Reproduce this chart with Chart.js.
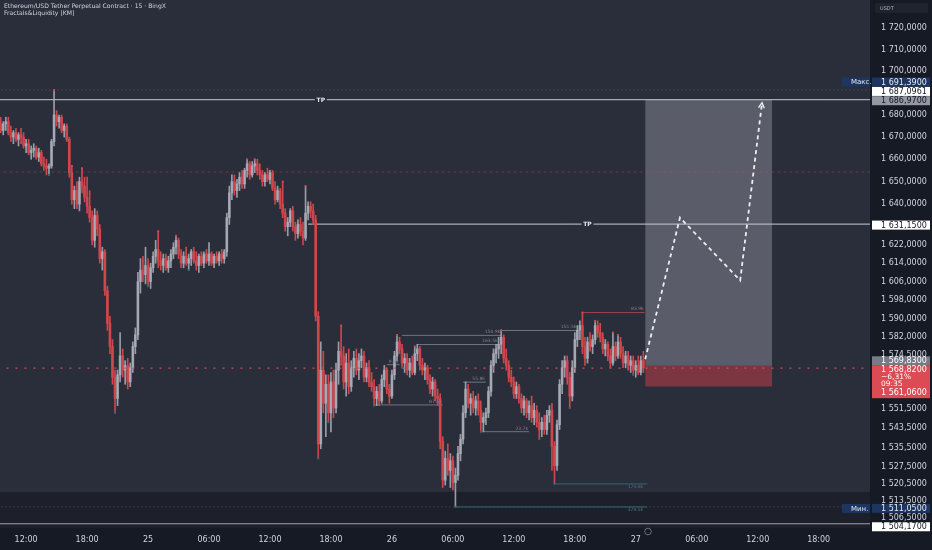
<!DOCTYPE html>
<html>
<head>
<meta charset="utf-8">
<title>ETHUSDT 15m</title>
<script src="https://cdn.jsdelivr.net/npm/chart.js@4.4.1/dist/chart.umd.min.js"></script>
<style>
  html, body { margin: 0; padding: 0; background: #161a25; }
  #wrap { width: 932px; height: 550px; }
</style>
</head>
<body>
<div id="wrap"><canvas id="chart" width="932" height="550"></canvas></div>
<script>
// 15m candles, 24th 09:30 -> 27th 00:45 (index = candle number)
const opens = [
  1676,1673,1676,1677,1672,1670,1672,1669,1671,1670,
  1666,1667,1663,1664,1665,1661,1663,1658,1657,1656,
  1657,1668,1680,1677,1679,1673,1675,1669,1654,1642,
  1646,1640,1650,1648,1643,1639,1634,1624,1635,1629,
  1616,1619,1602,1588,1578,1565,1556,1566,1574,1568,
  1570,1563,1569,1578,1583,1606,1611,1609,1613,1606,
  1612,1617,1620,1615,1613,1616,1612,1615,1618,1621,
  1624,1618,1614,1617,1614,1616,1619,1615,1613,1617,
  1614,1618,1615,1618,1614,1617,1615,1618,1616,1619,
  1634,1645,1650,1646,1649,1652,1649,1655,1658,1653,
  1657,1658,1655,1653,1650,1653,1651,1654,1647,1642,
  1646,1640,1636,1630,1632,1637,1630,1627,1631,1628,
  1625,1636,1639,1637,1633,1591,1537,1568,1554,1562,
  1550,1563,1552,1568,1576,1574,1563,1571,1561,1569,
  1573,1568,1572,1574,1565,1569,1563,1561,1556,1559,
  1555,1564,1568,1560,1557,1566,1574,1580,1577,1571,
  1573,1568,1571,1567,1575,1577,1570,1568,1569,1564,
  1560,1563,1557,1556,1538,1522,1531,1526,1530,1521,
  1524,1533,1539,1550,1560,1554,1556,1552,1555,1551,
  1546,1548,1550,1559,1570,1575,1577,1579,1582,1573,
  1570,1565,1563,1558,1561,1556,1552,1555,1550,1553,
  1548,1551,1546,1543,1546,1543,1549,1551,1536,1528,
  1545,1562,1569,1572,1565,1557,1569,1581,1585,1587,
  1578,1573,1580,1578,1581,1587,1584,1582,1577,1579,
  1574,1571,1578,1574,1580,1575,1571,1574,1570,1572,
  1568,1570,1567,1572
];
const highs = [
  1679,1677,1679,1679,1675,1673,1674,1672,1674,1672,
  1669,1669,1666,1667,1666,1665,1664,1661,1660,1658,
  1669,1691.39,1682,1680,1680,1676,1676,1670,1657,1648,
  1650,1652,1656,1652,1652,1646,1637,1638,1637,1631,
  1621,1620,1604,1591,1581,1568,1568,1584,1577,1572,
  1573,1571,1580,1586,1610,1616,1617,1621,1616,1614,
  1619,1624,1628,1619,1618,1618,1617,1620,1623,1626,
  1625,1620,1619,1621,1618,1620,1621,1619,1618,1619,
  1619,1620,1623,1619,1618,1619,1619,1620,1620,1636,
  1648,1653,1653,1651,1654,1655,1656,1660,1659,1659,
  1660,1660,1658,1655,1654,1656,1655,1655,1650,1648,
  1647,1650,1638,1634,1638,1639,1632,1633,1634,1632,
  1648,1641,1641,1640,1635,1593,1580,1576,1566,1566,
  1567,1568,1571,1580,1587,1578,1575,1577,1572,1576,
  1577,1575,1577,1576,1571,1572,1567,1564,1561,1562,
  1566,1570,1569,1562,1568,1576,1583,1582,1579,1575,
  1575,1573,1574,1578,1579,1578,1573,1571,1570,1566,
  1565,1564,1560,1558,1540,1534,1537,1533,1532,1527,
  1536,1541,1553,1563,1562,1558,1559,1557,1558,1555,
  1550,1552,1561,1572,1577,1579,1582,1585,1583,1577,
  1572,1568,1565,1563,1562,1558,1557,1556,1555,1557,
  1554,1553,1550,1548,1549,1551,1553,1554,1538,1547,
  1564,1572,1574,1574,1567,1572,1584,1587,1589,1592.6,
  1582,1582,1584,1583,1589,1589,1588,1584,1581,1580,
  1577,1584,1580,1583,1582,1578,1576,1576,1574,1574,
  1572,1574,1574,1576
];
const lows = [
  1672,1671,1673,1671,1668,1667,1668,1666,1667,1665,
  1663,1662,1660,1661,1660,1659,1657,1655,1653,1653,
  1656,1666,1675,1674,1672,1670,1668,1652,1640,1638,
  1638,1637,1645,1641,1636,1632,1622,1621,1626,1614,
  1611,1600,1585,1575,1562,1550,1553,1563,1565,1562,
  1560,1561,1567,1575,1581,1601,1606,1605,1604,1603,
  1610,1614,1612,1611,1610,1611,1610,1612,1616,1618,
  1616,1612,1612,1613,1611,1613,1614,1611,1610,1613,
  1612,1614,1613,1613,1612,1614,1613,1614,1614,1617,
  1631,1642,1644,1643,1646,1647,1647,1652,1651,1652,
  1654,1653,1651,1648,1648,1650,1649,1646,1640,1641,
  1638,1634,1628,1626,1630,1628,1624,1625,1626,1622,
  1624,1633,1634,1631,1589,1531,1535,1550,1540,1546,
  1542,1548,1550,1562,1570,1560,1557,1558,1559,1565,
  1566,1564,1569,1563,1563,1561,1559,1553,1553,1553,
  1554,1561,1558,1554,1556,1564,1572,1575,1569,1567,
  1566,1565,1566,1566,1572,1568,1566,1564,1562,1558,
  1557,1555,1553,1535,1519,1520,1524,1519,1518,1511.05,
  1522,1530,1537,1548,1552,1549,1550,1549,1549,1542,
  1542,1545,1548,1557,1567,1571,1573,1575,1571,1568,
  1563,1561,1556,1556,1554,1550,1549,1548,1547,1546,
  1545,1544,1539,1540,1541,1541,1546,1526,1520.5,1526,
  1543,1558,1565,1562,1552,1555,1567,1578,1581,1575,
  1570,1571,1576,1575,1579,1582,1580,1575,1574,1572,
  1569,1570,1572,1573,1573,1569,1569,1568,1567,1566,
  1565,1566,1566,1567
];
const closes = [
  1673,1676,1677,1672,1670,1672,1669,1671,1670,1666,
  1667,1663,1664,1665,1661,1663,1658,1657,1656,1657,
  1668,1680,1677,1679,1673,1675,1669,1654,1642,1646,
  1640,1650,1648,1643,1639,1634,1624,1635,1629,1616,
  1619,1602,1588,1578,1565,1556,1566,1574,1568,1570,
  1563,1569,1578,1583,1606,1611,1609,1613,1606,1612,
  1617,1620,1615,1613,1616,1612,1615,1618,1621,1624,
  1618,1614,1617,1614,1616,1619,1615,1613,1617,1614,
  1618,1615,1618,1614,1617,1615,1618,1616,1619,1634,
  1645,1650,1646,1649,1652,1649,1655,1658,1653,1657,
  1658,1655,1653,1650,1653,1651,1654,1647,1642,1646,
  1640,1636,1630,1632,1637,1630,1627,1631,1628,1625,
  1636,1639,1637,1633,1591,1537,1568,1554,1562,1550,
  1563,1552,1568,1576,1574,1563,1571,1561,1569,1573,
  1568,1572,1574,1565,1569,1563,1561,1556,1559,1555,
  1564,1568,1560,1557,1566,1574,1580,1577,1571,1573,
  1568,1571,1567,1575,1577,1570,1568,1569,1564,1560,
  1563,1557,1556,1538,1522,1531,1526,1530,1521,1524,
  1533,1539,1550,1560,1554,1556,1552,1555,1551,1546,
  1548,1550,1559,1570,1575,1577,1579,1582,1573,1570,
  1565,1563,1558,1561,1556,1552,1555,1550,1553,1548,
  1551,1546,1543,1546,1543,1549,1551,1536,1528,1545,
  1562,1569,1572,1565,1557,1569,1581,1585,1587,1578,
  1573,1580,1578,1581,1587,1584,1582,1577,1579,1574,
  1571,1578,1574,1580,1575,1571,1574,1570,1572,1568,
  1570,1567,1572,1568.82
];

// fractal pivots marked on the candles
const pivotHighIdx = [21, 28, 32, 62, 69, 97, 100, 111, 120, 134, 156, 163, 197, 229, 234, 241, 243];
const pivotLowIdx = [19, 45, 58, 74, 125, 129, 147, 158, 179, 189, 212, 218, 224, 249];

// time axis (candle index -> label)
const timeTickIdx = [10, 34, 58, 82, 106, 130, 154, 178, 202, 226, 250, 274, 298, 322];
const timeTickLabels = ['12:00','18:00','25','06:00','12:00','18:00','26','06:00','12:00','18:00','27','06:00','12:00','18:00'];
const priceTicks = [1720,1710,1700,1690,1680,1670,1660,1650,1640,1630,1622,1614,1606,1598,1590,1582,
  1574.5,1566.5,1559,1551.5,1543.5,1535.5,1527.5,1520.5,1513.5,1506.5];

// drawings
const tpPrices = [1686.97, 1631.15];
const tpFrom = [-1, 121];
const tpLabelAt = [126, 231];

const fractalPrices = [1582.8, 1578.9, 1584.9, 1553.3, 1562.9, 1542.1, 1570.3];
const fractalFrom   = [158, 164, 197, 147, 182, 190, 152];
const fractalTo     = [197, 196, 227, 174, 191, 208, 157];
const fractalTags   = ['150.9k', '163.5k', '151.5k', '87.5k', '55.8k', '23.7k', '9.3k'];

const redLevelPrices = [1592.6];
const redLevelFrom   = [229];
const redLevelTo     = [253.5];
const redLevelTags   = ['83.9k'];

const liquidityPrices = [1520.5, 1511.05];
const liquidityFrom   = [218, 179];
const liquidityTo     = [254.5, 254.5];
const liquidityTags   = ['174.6k', '374.5k'];

const targetPrice = 1686.97, entryPrice = 1569.83, stopPrice = 1561.06;
const positionFrom = 253.7, positionTo = 303.7;
const pathIdx = [253.7, 267.4, 291.1, 299.7];
const pathPrices = [1572.6, 1634, 1606.5, 1685.6];

const lastPrice = 1568.82;
const maxPrice = 1691.39, minPrice = 1511.05;
const fadedLevel = 1654.3;
const bottomLine = 1504.17;
const bandTop = 1517.1;

const X_MIN = -0.28, X_MAX = 342.2;
const UP = 'rgba(170,173,183,0.88)';
const DOWN = '#cf464d';
const PANE = '#2a2e3a';
const AXIS_FONT = 'DejaVu Sans';

function fmt(v) {
  const parts = v.toFixed(4).split('.');
  return parts[0].replace(/\B(?=(\d{3})+(?!\d))/g, ' ') + ',' + parts[1];
}

function hline(price, from, to, color, dash, width, order) {
  return {
    type: 'line',
    data: [{ x: from, y: price }, { x: to, y: price }],
    borderColor: color,
    borderDash: dash || [],
    borderWidth: width || 1,
    pointRadius: 0,
    pointHoverRadius: 0,
    fill: false,
    order: order
  };
}

const candleColors = closes.map((c, i) => c >= opens[i] ? UP : DOWN);

const datasets = [];

// dark band at the bottom of the pane
datasets.push({
  type: 'line', data: [{ x: X_MIN - 1, y: bandTop }, { x: X_MAX + 1, y: bandTop }],
  borderWidth: 0, pointRadius: 0, fill: 'start', backgroundColor: '#1d202b', order: 30
});

// long position: target zone then stop zone
datasets.push({
  type: 'line', data: [{ x: positionFrom, y: targetPrice }, { x: positionTo, y: targetPrice }],
  borderWidth: 0, pointRadius: 0, fill: '+1', backgroundColor: 'rgba(120,123,134,0.62)', order: 25
});
datasets.push({
  type: 'line', data: [{ x: positionFrom, y: entryPrice }, { x: positionTo, y: entryPrice }],
  borderWidth: 0, pointRadius: 0, fill: '+1', backgroundColor: 'rgba(205,62,72,0.5)', order: 25
});
datasets.push({
  type: 'line', data: [{ x: positionFrom, y: stopPrice }, { x: positionTo, y: stopPrice }],
  borderWidth: 0, pointRadius: 0, fill: false, order: 25
});

// horizontal levels
datasets.push(hline(maxPrice, X_MIN - 1, X_MAX + 1, 'rgba(150,153,165,0.45)', [1, 3], 1, 20));
datasets.push(hline(minPrice, X_MIN - 1, X_MAX + 1, 'rgba(150,153,165,0.45)', [1, 3], 1, 20));
datasets.push(hline(fadedLevel, X_MIN - 1, X_MAX + 1, 'rgba(190,70,80,0.45)', [3, 3], 1, 20));
datasets.push(hline(bottomLine, X_MIN - 1, X_MAX + 1, '#9fa2ab', [], 1, 20));
tpPrices.forEach((p, i) => datasets.push(hline(p, tpFrom[i], X_MAX + 1, '#c9cbd1', [], 1, 15)));
fractalPrices.forEach((p, i) => datasets.push(hline(p, fractalFrom[i], fractalTo[i], 'rgba(125,128,140,0.85)', [], 1, 15)));
redLevelPrices.forEach((p, i) => datasets.push(hline(p, redLevelFrom[i], redLevelTo[i], 'rgba(190,70,80,0.8)', [], 1, 15)));
liquidityPrices.forEach((p, i) => datasets.push(hline(p, liquidityFrom[i], liquidityTo[i], '#30586a', [], 1.2, 15)));

// candles: wicks and bodies as floating bars
datasets.push({
  type: 'bar', grouped: false, order: 5,
  data: highs.map((h, i) => ({ x: i, y: [lows[i], h] })),
  backgroundColor: candleColors, barThickness: 1
});
datasets.push({
  type: 'bar', grouped: false, order: 4,
  data: closes.map((c, i) => ({ x: i, y: [opens[i], c] })),
  backgroundColor: candleColors, barThickness: 2, minBarLength: 1
});

// fractal markers
datasets.push({
  type: 'scatter', order: 3,
  data: pivotHighIdx.map(i => ({ x: i, y: highs[i] })),
  pointStyle: 'rect', pointRadius: 1.4, pointHoverRadius: 0, backgroundColor: '#d9434c', borderWidth: 0
});
datasets.push({
  type: 'scatter', order: 3,
  data: pivotLowIdx.map(i => ({ x: i, y: lows[i] })),
  pointStyle: 'rect', pointRadius: 1.4, pointHoverRadius: 0, backgroundColor: '#2e6b70', borderWidth: 0
});

// current price line
datasets.push(hline(lastPrice, X_MIN - 1, X_MAX + 1, '#d94a52', [2, 7], 1.3, 3));

// projected path
datasets.push({
  type: 'line', order: 1,
  data: pathIdx.map((x, i) => ({ x: x, y: pathPrices[i] })),
  borderColor: '#eceef2', borderDash: [4, 3.5], borderWidth: 1.8, pointRadius: 0, pointHoverRadius: 0,
  fill: false, tension: 0
});

function box(ctx, x, y, w, h, bg, fg, text, font) {
  ctx.fillStyle = bg;
  ctx.fillRect(x, y - h / 2, w, h);
  ctx.fillStyle = fg;
  ctx.font = font || ('8px ' + AXIS_FONT);
  ctx.textAlign = 'left';
  ctx.textBaseline = 'middle';
  ctx.fillText(text, x + 9, y + 0.5);
}

const decor = {
  id: 'decor',
  beforeDraw(chart) {
    const { ctx, chartArea: a } = chart;
    ctx.save();
    ctx.fillStyle = '#161a25';
    ctx.fillRect(0, 0, chart.width, chart.height);
    ctx.fillStyle = PANE;
    ctx.fillRect(a.left, a.top, a.right - a.left, a.bottom - a.top);
    ctx.restore();
  },
  afterDatasetsDraw(chart) {
    const { ctx } = chart;
    const xs = chart.scales.x, ys = chart.scales.y;
    ctx.save();

    // arrow head of projected path
    const n = pathIdx.length;
    const px = xs.getPixelForValue(pathIdx[n - 1]), py = ys.getPixelForValue(pathPrices[n - 1]);
    const qx = xs.getPixelForValue(pathIdx[n - 2]), qy = ys.getPixelForValue(pathPrices[n - 2]);
    const ang = Math.atan2(py - qy, px - qx);
    ctx.strokeStyle = '#eceef2';
    ctx.lineWidth = 1.4;
    ctx.beginPath();
    ctx.moveTo(px - 6 * Math.cos(ang - 0.5), py - 6 * Math.sin(ang - 0.5));
    ctx.lineTo(px, py);
    ctx.lineTo(px - 6 * Math.cos(ang + 0.5), py - 6 * Math.sin(ang + 0.5));
    ctx.stroke();

    // TP labels
    ctx.font = 'bold 6px ' + AXIS_FONT;
    ctx.textAlign = 'center';
    ctx.textBaseline = 'middle';
    tpPrices.forEach((p, i) => {
      const x = xs.getPixelForValue(tpLabelAt[i]), y = ys.getPixelForValue(p);
      ctx.fillStyle = PANE;
      ctx.fillRect(x - 6, y - 3, 12, 6);
      ctx.fillStyle = '#e8e9ed';
      ctx.fillText('TP', x, y + 0.5);
    });

    // liquidity tags
    ctx.font = '4.5px ' + AXIS_FONT;
    ctx.textAlign = 'right';
    ctx.textBaseline = 'bottom';
    ctx.fillStyle = '#80838e';
    fractalPrices.forEach((p, i) => {
      ctx.fillText(fractalTags[i], xs.getPixelForValue(fractalTo[i]) - 1, ys.getPixelForValue(p) - 1);
    });
    redLevelPrices.forEach((p, i) => {
      ctx.fillText(redLevelTags[i], xs.getPixelForValue(redLevelTo[i]) - 1, ys.getPixelForValue(p) - 1);
    });
    ctx.textBaseline = 'top';
    ctx.fillStyle = '#4d7282';
    liquidityPrices.forEach((p, i) => {
      ctx.fillText(liquidityTags[i], xs.getPixelForValue(liquidityTo[i]) - 4, ys.getPixelForValue(p) + 1);
    });

    // header
    ctx.textAlign = 'left';
    ctx.textBaseline = 'middle';
    ctx.fillStyle = '#d1d4dc';
    ctx.font = '6.1px ' + AXIS_FONT;
    ctx.fillText('Ethereum/USD Tether Perpetual Contract · 15 · BingX', 4, 6);
    ctx.fillText('Fractals&Liquidity [KM]', 4, 13);
    ctx.restore();
  },
  afterDraw(chart) {
    const { ctx, chartArea: a } = chart;
    const ys = chart.scales.y;
    const ax = a.right + 2, aw = 58;
    ctx.save();

    // currency box
    ctx.fillStyle = '#1f232e';
    ctx.fillRect(ax + 3, 3, 53, 10);
    ctx.fillStyle = '#b2b5be';
    ctx.font = '5px ' + AXIS_FONT;
    ctx.textBaseline = 'middle';
    ctx.fillText('USDT', ax + 8, 8.5);

    const BLUE = '#1c3563';
    const yMax = ys.getPixelForValue(maxPrice) - 8;
    box(ctx, ax, yMax, aw, 9, BLUE, '#e8eaf0', fmt(maxPrice));
    box(ctx, a.right - 28, yMax, 28, 9, BLUE, '#e8eaf0', 'Макс.', '7px ' + AXIS_FONT);
    box(ctx, ax, ys.getPixelForValue(1687.0961) - 8, aw, 9, '#ffffff', '#131722', fmt(1687.0961));
    box(ctx, ax, ys.getPixelForValue(targetPrice) + 1, aw, 9, '#9598a1', '#131722', fmt(targetPrice));
    box(ctx, ax, ys.getPixelForValue(tpPrices[1]) + 1, aw, 9, '#ffffff', '#131722', fmt(tpPrices[1]));
    box(ctx, ax, ys.getPixelForValue(entryPrice) - 5, aw, 9, '#787b86', '#ffffff', fmt(entryPrice));

    // last price block
    const yl = ys.getPixelForValue(lastPrice);
    ctx.fillStyle = '#dc4a53';
    ctx.fillRect(ax, yl - 3, aw, 33);
    ctx.fillStyle = '#ffffff';
    ctx.font = '8px ' + AXIS_FONT;
    ctx.textBaseline = 'middle';
    ctx.fillText(fmt(lastPrice), ax + 9, yl + 1.5);
    ctx.font = '7.5px ' + AXIS_FONT;
    ctx.fillText('\u22126,31%', ax + 9, yl + 8.5);
    ctx.fillText('09:35', ax + 9, yl + 16);
    ctx.font = '8px ' + AXIS_FONT;
    ctx.fillText(fmt(stopPrice), ax + 9, yl + 25);

    const yMin = ys.getPixelForValue(minPrice) + 1.5;
    box(ctx, ax, yMin, aw, 9, BLUE, '#e8eaf0', fmt(minPrice));
    box(ctx, a.right - 28, yMin, 28, 9, BLUE, '#e8eaf0', 'Мин.', '7px ' + AXIS_FONT);
    box(ctx, ax, ys.getPixelForValue(bottomLine) + 3, aw, 9, '#ffffff', '#131722', fmt(bottomLine));

    // scroll-to-realtime button on the time axis
    ctx.strokeStyle = '#6c6f7a';
    ctx.lineWidth = 1;
    ctx.beginPath();
    ctx.arc(648, a.bottom + 3.5, 3.3, 0, Math.PI * 2);
    ctx.stroke();
    ctx.restore();
  }
};

new Chart(document.getElementById('chart'), {
  type: 'bar',
  data: { datasets: datasets },
  plugins: [decor],
  options: {
    responsive: false,
    animation: false,
    events: [],
    layout: { padding: 0, autoPadding: false },
    plugins: { legend: { display: false }, tooltip: { enabled: false } },
    scales: {
      x: {
        type: 'linear',
        min: X_MIN,
        max: X_MAX,
        offset: false,
        grid: { display: false, drawTicks: false },
        border: { display: false },
        afterBuildTicks: s => { s.ticks = timeTickIdx.map(v => ({ value: v })); },
        afterFit: s => { s.height = 22; s.paddingLeft = 0; s.paddingRight = 0; },
        ticks: {
          autoSkip: false,
          maxRotation: 0,
          padding: 7,
          color: '#d1d4dc',
          font: { family: AXIS_FONT, size: 8 },
          callback: (v, i) => timeTickLabels[i]
        }
      },
      y: {
        type: 'logarithmic',
        position: 'right',
        min: 1502.45,
        max: 1733.08,
        grid: { display: false, drawTicks: false },
        border: { display: false },
        afterBuildTicks: s => { s.ticks = priceTicks.map(v => ({ value: v })); },
        afterFit: s => { s.width = 62; s.paddingTop = 0; s.paddingBottom = 0; },
        ticks: {
          padding: 11,
          color: '#d1d4dc',
          font: { family: AXIS_FONT, size: 8 },
          callback: v => fmt(v)
        }
      }
    }
  }
});
</script>
</body>
</html>
